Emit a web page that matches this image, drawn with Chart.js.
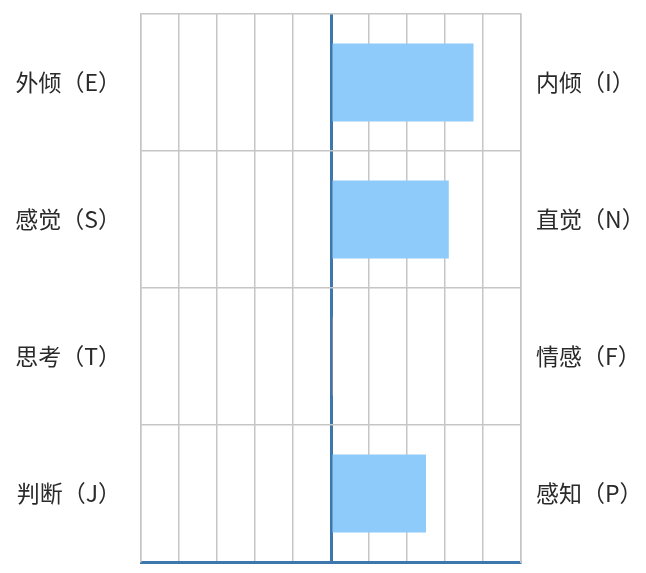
<!DOCTYPE html>
<html>
<head>
<meta charset="utf-8">
<script src="https://cdn.jsdelivr.net/npm/chart.js@4/dist/chart.umd.min.js"></script>
<style>
html,body{margin:0;padding:0;background:#fff;}
#wrap{width:646px;height:573px;position:relative;}
</style>
</head>
<body>
<div id="wrap"><canvas id="c"></canvas></div>
<script>
const leftLabels = ['外倾（E）', '感觉（S）', '思考（T）', '判断（J）'];
const rightLabels = ['内倾（I）', '直觉（N）', '情感（F）', '感知（P）'];
const scores = [75, 62, 1, 50];
const barColors = ['#8ecbfa', '#8ecbfa', '#f2a46c', '#8ecbfa'];
const axisMin = -100;
const axisMax = 100;
const axisStep = 20;

const labelFont = { family: '"Noto Sans CJK SC", "Noto Sans", sans-serif', size: 23 };

function fixV(width) {
  return (s) => { s.width = width; s.paddingTop = 0; s.paddingBottom = 0; };
}

new Chart(document.getElementById('c'), {
  type: 'bar',
  data: {
    labels: leftLabels,
    datasets: [{
      data: scores,
      backgroundColor: barColors,
      borderWidth: 0,
      categoryPercentage: 1,
      barPercentage: 0.57,
      yAxisID: 'y'
    }]
  },
  options: {
    indexAxis: 'y',
    responsive: true,
    maintainAspectRatio: false,
    animation: false,
    layout: { padding: { top: 14, left: 0, right: 0, bottom: 0 } },
    plugins: { legend: { display: false }, tooltip: { enabled: false } },
    scales: {
      x: {
        min: axisMin,
        max: axisMax,
        ticks: { display: false, stepSize: axisStep },
        grid: {
          drawTicks: false,
          color: (ctx) => (ctx.tick && ctx.tick.value === 0) ? '#3d77ad' : '#c6c6c6',
          lineWidth: (ctx) => (ctx.tick && ctx.tick.value === 0) ? 3 : 1.5
        },
        border: { display: true, color: '#3d77ad', width: 3 },
        afterFit: (s) => { s.height = 11; s.paddingLeft = 0; s.paddingRight = 0; }
      },
      y: {
        type: 'category',
        position: 'left',
        offset: true,
        grid: { offset: true, drawTicks: false, color: '#c6c6c6', lineWidth: 1.5 },
        border: { display: true, color: '#c6c6c6', width: 1.5 },
        ticks: { color: '#2a2a2a', font: labelFont, padding: 20 },
        afterFit: fixV(141)
      },
      y2: {
        type: 'category',
        position: 'right',
        labels: rightLabels,
        offset: true,
        grid: { display: false, drawTicks: false },
        border: { display: true, color: '#c6c6c6', width: 1.5 },
        ticks: { color: '#2a2a2a', font: labelFont, padding: 15 },
        afterFit: fixV(125)
      }
    }
  }
});
</script>
</body>
</html>
